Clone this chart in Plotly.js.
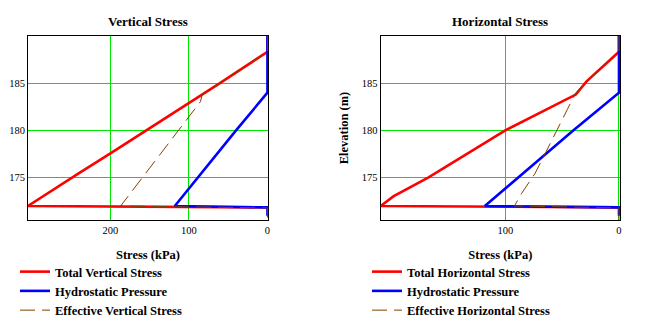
<!DOCTYPE html>
<html>
<head>
<meta charset="utf-8">
<script src="https://cdn.plot.ly/plotly-3.0.1.min.js"></script>
<style>
html,body{margin:0;padding:0;background:#ffffff;}
#chart{width:670px;height:332px;}
</style>
</head>
<body>
<div id="chart"></div>
<script>
// ---------- data ----------
// Vertical stress chart
const elevTotalV = [190.03, 188.35, 185.0, 183.5, 181.8, 180.2, 177.6, 175.4, 171.95, 171.8];
const totalV     = [0,      0,      61,    89,    119,   150,   199,   241,   305,    0];

const elevHydro  = [190.03, 184.0, 180.0, 175.0, 171.95, 171.8, 170.9];
const hydro      = [0,      0,     40,    89,    118,    0,     0];

const elevEffV   = [190.03, 188.35, 185.0, 183.8, 183.04, 181.7, 179.75, 177.7, 175.7, 173.7, 171.95, 171.75, 170.46];
const effV       = [0,      0,      61,    83,    85.4,   97.7,  114.6,  134.3, 152.1, 171.2, 187,    0,      0];

// Horizontal stress chart
const elevTotalH = [190.03, 188.35, 185.2, 183.8, 180.0, 175.0, 172.97, 171.95, 171.8];
const totalH     = [0,      0,      28.5,  38,    100,   167.5, 198.5,  209.6,  0];

const elevEffH   = [190.03, 188.35, 185.2, 183.9, 182.2, 180.0, 177.7, 175.4, 173.3, 171.95, 171.75, 170.46];
const effH       = [0,      0,      28.5,  38.5,  45.5,  54.3,  64.2,  73.9,  85.6,  92,     0,      0];

const namesV = ['Total Vertical Stress', 'Hydrostatic Pressure', 'Effective Vertical Stress'];
const namesH = ['Total Horizontal Stress', 'Hydrostatic Pressure', 'Effective Horizontal Stress'];
const yTicks = [175, 180, 185];
const xTicksV = [0, 100, 200];
const xTicksH = [0, 100];

// ---------- styles ----------
const serif = 'Liberation Serif, Times New Roman, serif';
const RED = '#ff0000', BLUE = '#0000ff', BROWN = '#804000', GRID = '#00e600';
const W = 670, H = 332;

function line(x, y, name, color, width, dash, xa, ya, leg) {
  return {x: x, y: y, name: name, type: 'scatter', mode: 'lines',
          line: {color: color, width: width, dash: dash},
          xaxis: xa, yaxis: ya, legend: leg, hoverinfo: 'skip'};
}

const traces = [
  line(totalV, elevTotalV, namesV[0], RED, 2.6, 'solid', 'x', 'y', 'legend'),
  line(hydro, elevHydro, namesV[1], BLUE, 2.6, 'solid', 'x', 'y', 'legend'),
  line(effV, elevEffV, namesV[2], BROWN, 1, '15px,7px', 'x', 'y', 'legend'),
  line(totalH, elevTotalH, namesH[0], RED, 2.6, 'solid', 'x2', 'y2', 'legend2'),
  line(hydro, elevHydro, namesH[1], BLUE, 2.6, 'solid', 'x2', 'y2', 'legend2'),
  line(effH, elevEffH, namesH[2], BROWN, 1, '15px,7px', 'x2', 'y2', 'legend2')
];

const tickFont = {family: serif, size: 10.5, color: '#000'};
const boldFont = {family: serif, size: 12.5, color: '#000', weight: 'bold'};

function xAxis(domain, range, tickvals, anchor) {
  return {domain: domain, range: range, autorange: false, anchor: anchor,
          tickmode: 'array', tickvals: tickvals, ticks: '',
          showgrid: true, gridcolor: GRID, gridwidth: 1, zeroline: false,
          showline: true, linecolor: '#000', linewidth: 1, mirror: true,
          layer: 'below traces', tickfont: tickFont,
          title: {text: 'Stress (kPa)', font: boldFont, standoff: 15}};
}
function yAxis(domain, anchor, title) {
  const a = {domain: domain, range: [170.46, 190.03], autorange: false, anchor: anchor,
          tickmode: 'array', tickvals: yTicks, ticks: '',
          showgrid: true, gridcolor: GRID, gridwidth: 1, zeroline: false,
          showline: true, linecolor: '#000', linewidth: 1, mirror: true,
          layer: 'below traces', tickfont: tickFont};
  if (title) a.title = {text: title, font: boldFont, standoff: 10};
  return a;
}

const yDom = [(H - 220) / H, (H - 36) / H];
const legendBase = {xanchor: 'left', yanchor: 'top', y: (H - 257) / H,
  font: {family: serif, size: 12.5, color: '#000', weight: 'bold'},
  bgcolor: 'rgba(0,0,0,0)', borderwidth: 0, itemwidth: 30, tracegroupgap: 0,
  itemclick: false, itemdoubleclick: false};

const layout = {
  width: W, height: H,
  margin: {l: 0, r: 0, t: 0, b: 0},
  paper_bgcolor: '#fff', plot_bgcolor: '#fff',
  showlegend: true,
  xaxis: xAxis([28 / W, 268 / W], [305, -0.7], xTicksV, 'y'),
  yaxis: yAxis(yDom, 'x', null),
  xaxis2: xAxis([380.7 / W, 620 / W], [209.6, -0.9], xTicksH, 'y2'),
  yaxis2: yAxis(yDom, 'x2', 'Elevation (m)'),
  legend: Object.assign({}, legendBase, {x: 15 / W}),
  legend2: Object.assign({}, legendBase, {x: 367 / W}),
  annotations: [
    {text: 'Vertical Stress', xref: 'paper', yref: 'paper', x: 148 / W, y: (H - 21) / H,
     xanchor: 'center', yanchor: 'middle', showarrow: false,
     font: {family: serif, size: 13, color: '#000', weight: 'bold'}},
    {text: 'Horizontal Stress', xref: 'paper', yref: 'paper', x: 500 / W, y: (H - 21) / H,
     xanchor: 'center', yanchor: 'middle', showarrow: false,
     font: {family: serif, size: 13, color: '#000', weight: 'bold'}}
  ]
};

Plotly.newPlot('chart', traces, layout, {displayModeBar: false, staticPlot: true});
</script>
</body>
</html>
